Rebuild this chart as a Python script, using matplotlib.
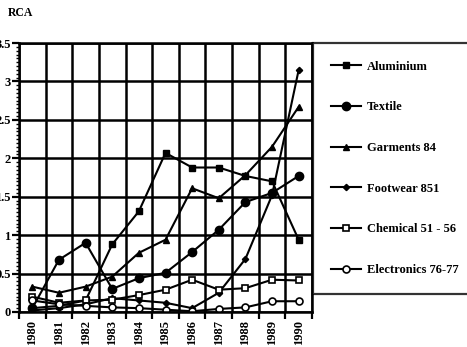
# RCA of export sectors, 1980-1990
# scanned-figure style: thick grid, serif bold text

import numpy as np
import matplotlib.pyplot as plt
from matplotlib.ticker import MultipleLocator


plt.rcParams.update({
    "font.family": "Liberation Serif",
    "font.weight": "bold",
    "font.size": 9,
    "axes.linewidth": 1.8,
})


# Data

years = [1980, 1981, 1982, 1983, 1984, 1985, 1986, 1987, 1988, 1989, 1990]

aluminium = [0.05, 0.08, 0.15, 0.88, 1.31, 2.07, 1.88, 1.88, 1.77, 1.70, 0.94]
textile = [0.05, 0.68, 0.90, 0.30, 0.44, 0.51, 0.78, 1.07, 1.43, 1.55, 1.77]
garments = [0.33, 0.25, 0.33, 0.46, 0.77, 0.94, 1.61, 1.48, 1.78, 2.15, 2.67]
footwear = [0.02, 0.05, 0.10, 0.18, 0.15, 0.12, 0.05, 0.25, 0.69, 1.52, 3.15]
chemical = [0.20, 0.12, 0.15, 0.16, 0.22, 0.29, 0.42, 0.29, 0.31, 0.42, 0.41]
electronics = [0.15, 0.10, 0.08, 0.06, 0.05, 0.03, 0.01, 0.04, 0.06, 0.14, 0.14]

y_ticks = [0, 0.5, 1, 1.5, 2, 2.5, 3, 3.5]
y_labels = ["0", "0.5", "1", "1.5", "2", "2.5", "3", "3.5"]


# Plot

W, H = 467, 347
fig = plt.figure(figsize=(W / 100, H / 100), dpi=100)
ax = fig.add_axes([19 / W, 1 - 312 / H, (312 - 19) / W, (312 - 43) / H])

style = dict(color="black", linewidth=1.5, markeredgecolor="black")

ax.plot(years, aluminium, marker="s", markersize=5, label="Aluminium", **style)
ax.plot(years, textile, marker="o", markersize=6, label="Textile", **style)
ax.plot(years, garments, marker="^", markersize=5, label="Garments 84", **style)
ax.plot(years, footwear, marker="D", markersize=3.2, label="Footwear 851", **style)
ax.plot(years, chemical, marker="s", markersize=5, markerfacecolor="white",
        markeredgewidth=1.2, label="Chemical 51 - 56", **style)
ax.plot(years, electronics, marker="o", markersize=5, markerfacecolor="white",
        markeredgewidth=1.2, label="Electronics 76-77", **style)

ax.set_xlim(1979.5, 1990.5)
ax.set_ylim(0, 3.5)

# x: labels at years, ticks + grid at the half years
ax.set_xticks(years)
ax.set_xticklabels([str(y) for y in years], rotation=90)
ax.set_xticks(np.arange(1979.5, 1991, 1), minor=True)
ax.tick_params(axis="x", which="major", length=0, pad=6)
ax.tick_params(axis="x", which="minor", length=5, width=1.6, direction="out")
ax.grid(True, axis="x", which="minor", color="black", linewidth=1.8)

# y
ax.set_yticks(y_ticks)
ax.set_yticklabels(y_labels)
ax.yaxis.set_minor_locator(MultipleLocator(0.05))
ax.tick_params(axis="y", which="major", length=5, width=1.6, pad=1)
ax.tick_params(axis="y", which="minor", length=2.5, width=1.0)
ax.grid(True, axis="y", which="major", color="black", linewidth=1.8)
ax.set_axisbelow(True)

# RCA title
fig.text(8 / W, 1 - 13 / H, "RCA", fontsize=8.5, fontweight="bold",
         ha="left", va="center")

# Legend in a box that runs off the right edge
leg = fig.legend(
    loc="upper left",
    bbox_to_anchor=(313 / W, 1 - 293 / H, 170 / W, 250 / H),
    mode="expand",
    borderaxespad=0,
    frameon=True,
    fancybox=False,
    fontsize=9,
    handlelength=2.4,
    handletextpad=0.5,
    labelspacing=2.3,
    borderpad=1.4,
)
leg.get_frame().set_edgecolor("black")
leg.get_frame().set_linewidth(1.6)

plt.savefig("out.png", dpi=100)
plt.close()
